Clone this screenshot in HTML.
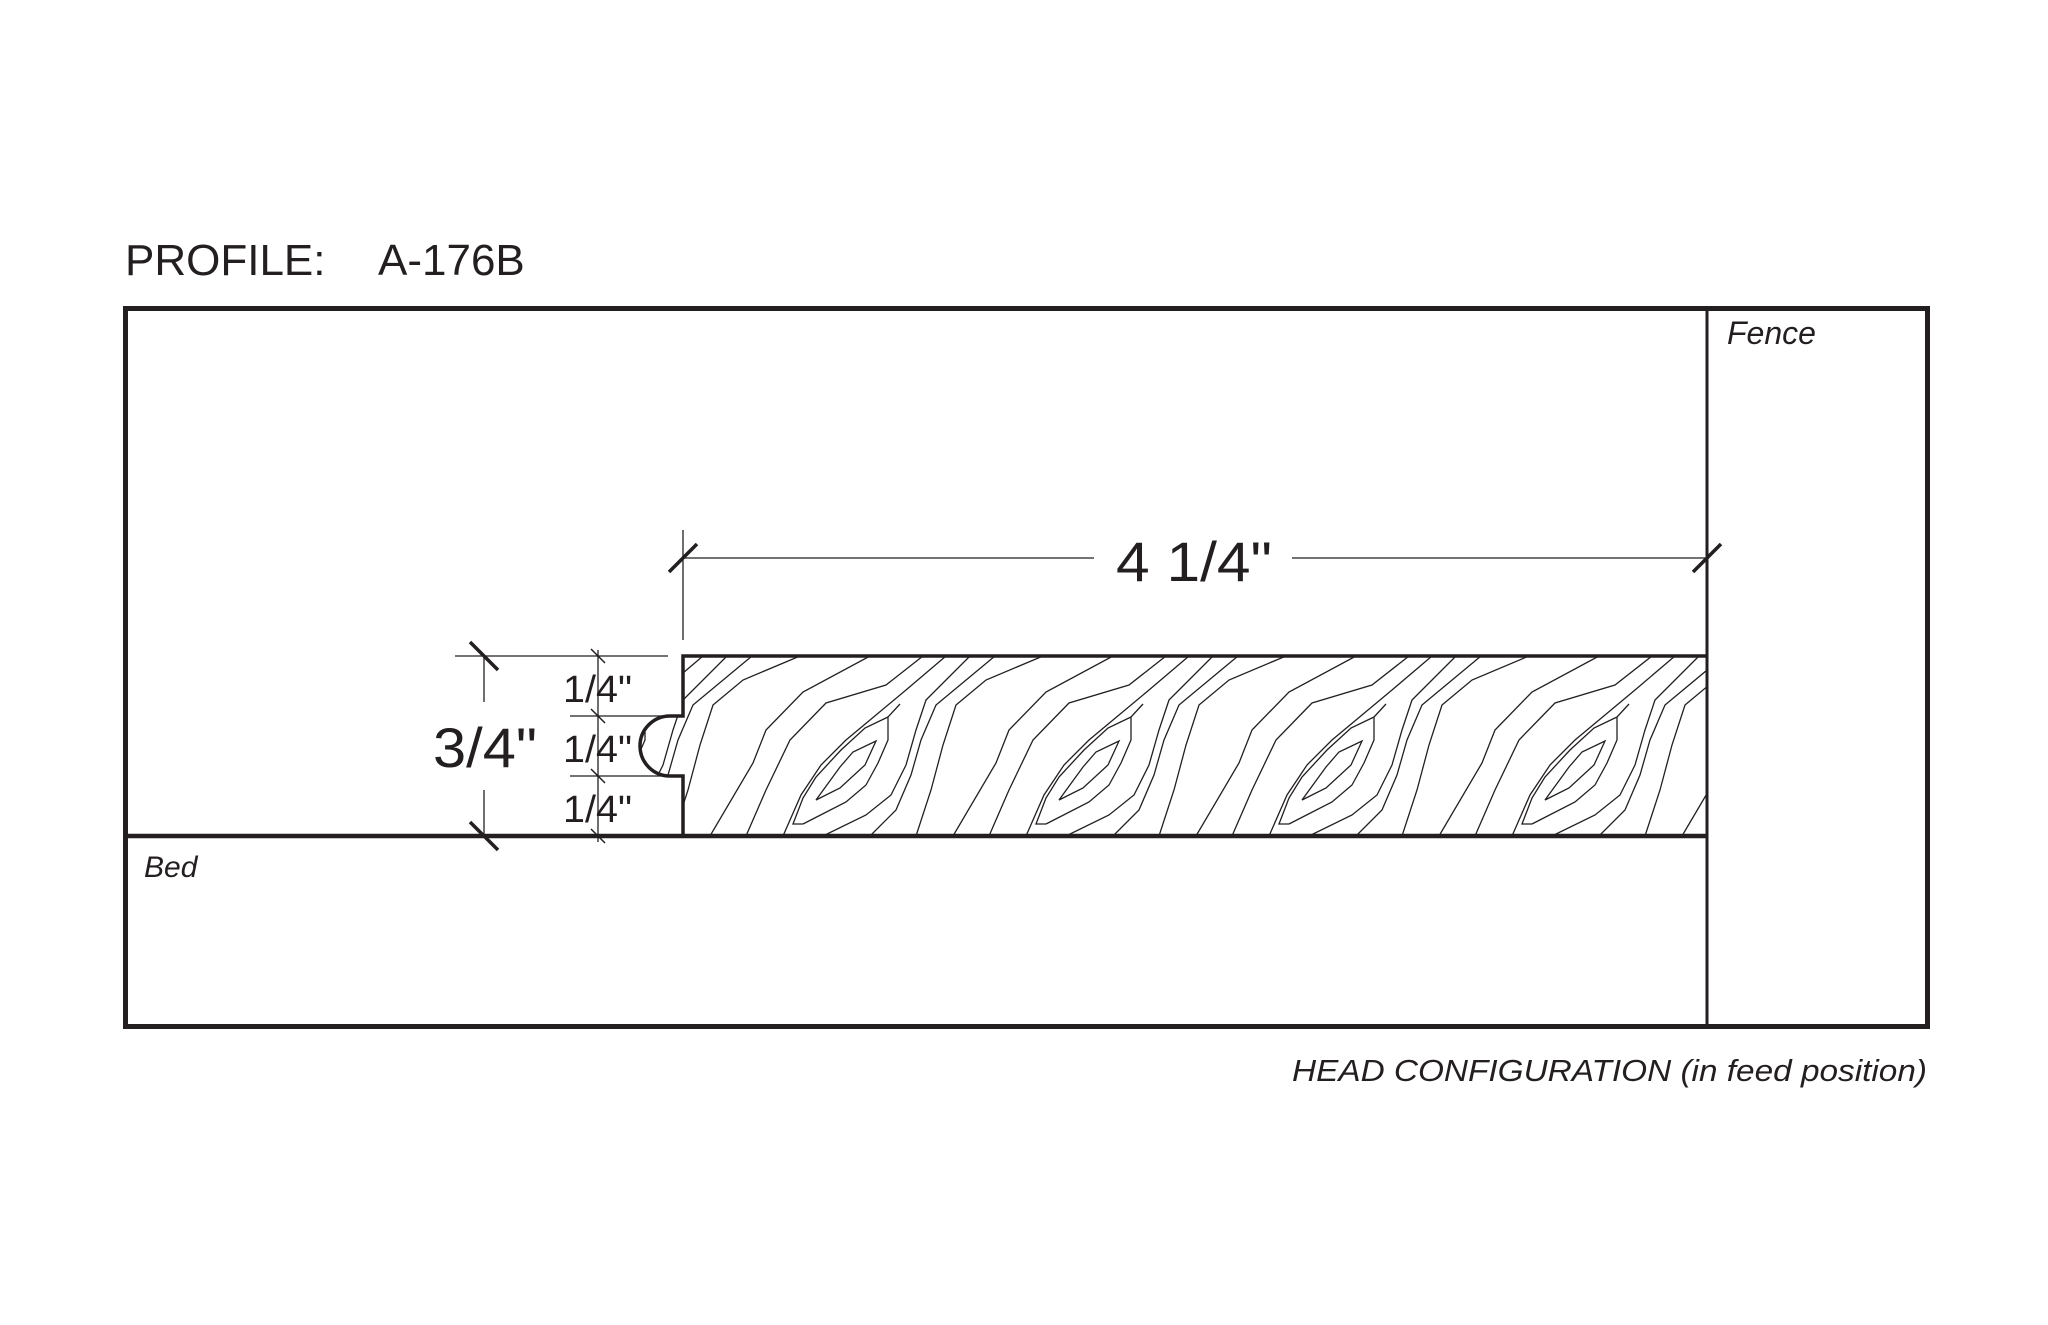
<!DOCTYPE html>
<html><head><meta charset="utf-8"><style>
html,body{margin:0;padding:0;background:#fff;}
svg{display:block;}
text{font-family:"Liberation Sans",sans-serif;fill:#231f20;}
</style></head><body>
<svg width="2048" height="1325" viewBox="0 0 2048 1325" xmlns="http://www.w3.org/2000/svg">
<defs>
<clipPath id="bc"><path d="M683,656 L1707,656 L1707,836 L683,836 L683,776 L670,776 A30,30 0 0 1 670,716 L683,716 Z"/></clipPath>
<g id="unit" fill="none" stroke="#231f20" stroke-width="1.3">
  <path d="M-30,30 L-6,-3 L7,-18 L30,-29 L19,-5 L-6,18 Z"/>
  <path d="M-43,54 L0,32 L20,15 L32,-7 L42,-30 L42,-53 L54,-66"/>
  <path d="M42,-53 L19,-42 L-5,-20 L-30,7 L-43,28 L-53,54 L-43,54"/>
  <path d="M-136,66 L-93,-7 L-80,-40 L-43,-78 L24,-114"/>
  <path d="M-100,66 L-80,20 L-56,-30 L-20,-67 L40,-85 L77,-114"/>
  <path d="M-63,66 L-45,25 L-25,-5 L0,-30 L30,-55 L60,-80 L100,-114"/>
  <path d="M-23,66 L20,45 L45,25 L60,-5 L70,-40 L80,-70 L124,-114"/>
  <path d="M24,66 L50,40 L65,5 L75,-30 L90,-65 L149,-114"/>
  <path d="M70,66 L85,20 L97,-25 L110,-65 L140,-90 L197,-114"/>
</g>
</defs>
<g clip-path="url(#bc)">
  <use href="#unit" x="603" y="770"/>
  <use href="#unit" x="846" y="770"/>
  <use href="#unit" x="1089" y="770"/>
  <use href="#unit" x="1332" y="770"/>
  <use href="#unit" x="1575" y="770"/>
  <use href="#unit" x="1818" y="770"/>
</g>
<rect x="125.5" y="308.5" width="1802" height="718" fill="none" stroke="#231f20" stroke-width="5"/>
<line x1="1707" y1="308" x2="1707" y2="1027" stroke="#231f20" stroke-width="3"/>
<line x1="123" y1="836" x2="1707" y2="836" stroke="#231f20" stroke-width="4.5"/>
<path d="M683,836 L683,776 L670,776 A30,30 0 0 1 670,716 L683,716 L683,656 L1707,656" fill="none" stroke="#231f20" stroke-width="3.5"/>
<g stroke="#231f20" stroke-width="1.3" fill="none">
  <line x1="683" y1="530" x2="683" y2="640"/>
  <line x1="683" y1="558" x2="1094" y2="558"/>
  <line x1="1292" y1="558" x2="1707" y2="558"/>
  <line x1="455" y1="656" x2="668" y2="656"/>
  <line x1="570" y1="716" x2="683" y2="716"/>
  <line x1="570" y1="776" x2="670" y2="776"/>
  <line x1="484" y1="656" x2="484" y2="702"/>
  <line x1="484" y1="790" x2="484" y2="836"/>
  <line x1="598" y1="650" x2="598" y2="842"/>
</g>
<g stroke="#231f20" stroke-width="3.5">
  <line x1="669" y1="572" x2="697" y2="544"/>
  <line x1="1693" y1="572" x2="1721" y2="544"/>
  <line x1="470" y1="642" x2="498" y2="670"/>
  <line x1="470" y1="822" x2="498" y2="850"/>
</g>
<g stroke="#231f20" stroke-width="1.5">
  <line x1="591" y1="649" x2="605" y2="663"/>
  <line x1="591" y1="709" x2="605" y2="723"/>
  <line x1="591" y1="769" x2="605" y2="783"/>
  <line x1="591" y1="829" x2="605" y2="843"/>
</g>
<text x="125" y="275" font-size="44">PROFILE:</text>
<text x="378" y="275" font-size="44">A-176B</text>
<text x="1116" y="581" font-size="56" textLength="156" lengthAdjust="spacingAndGlyphs">4 1/4"</text>
<text x="433" y="767" font-size="56" textLength="104" lengthAdjust="spacingAndGlyphs">3/4"</text>
<text x="563" y="702" font-size="38" textLength="69" lengthAdjust="spacingAndGlyphs">1/4"</text>
<text x="563" y="762" font-size="38" textLength="69" lengthAdjust="spacingAndGlyphs">1/4"</text>
<text x="563" y="822" font-size="38" textLength="69" lengthAdjust="spacingAndGlyphs">1/4"</text>
<text x="1727" y="344" font-size="32" font-style="italic">Fence</text>
<text x="144" y="877" font-size="30" font-style="italic">Bed</text>
<text x="1292" y="1081" font-size="31" font-style="italic" textLength="635" lengthAdjust="spacingAndGlyphs">HEAD CONFIGURATION (in feed position)</text>
</svg>
</body></html>
